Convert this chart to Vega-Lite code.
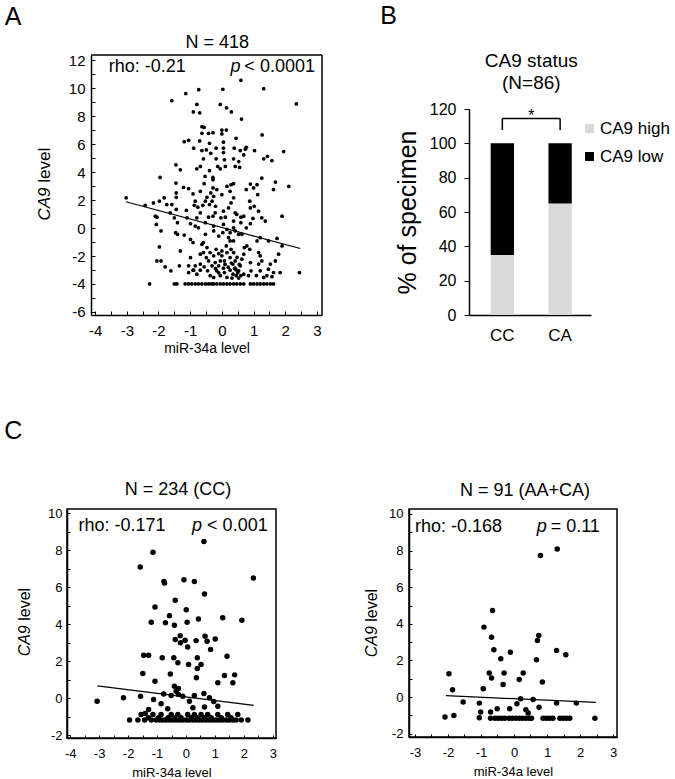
{
  "$schema": "https://vega.github.io/schema/vega-lite/v6.json",
  "padding": {"left": 3, "top": 3, "right": 0, "bottom": 0},
  "background": "white",
  "datasets": {
    "a_points": [
      {"x":0.60,"y":10.57},{"x":-0.73,"y":9.90},{"x":0.03,"y":9.93},{"x":1.32,"y":9.97},{"x":-1.14,"y":9.62},{"x":-1.58,"y":9.12},{"x":2.35,"y":8.88},{"x":-0.79,"y":8.84},{"x":-0.05,"y":8.84},{"x":0.15,"y":8.60},{"x":0.30,"y":8.31},{"x":-0.90,"y":8.31},{"x":-0.70,"y":8.24},{"x":0.62,"y":7.80},{"x":-0.63,"y":7.25},{"x":-0.56,"y":7.20},{"x":0.0,"y":7.01},{"x":0.14,"y":7.01},{"x":-0.63,"y":6.78},{"x":-0.42,"y":6.78},{"x":-0.28,"y":6.82},{"x":0.0,"y":6.73},{"x":1.27,"y":6.66},{"x":-1.19,"y":6.18},{"x":-1.05,"y":6.28},{"x":-0.70,"y":6.23},{"x":-0.39,"y":6.06},{"x":0.05,"y":6.14},{"x":0.45,"y":6.42},{"x":-0.89,"y":5.71},{"x":-0.63,"y":5.54},{"x":-0.49,"y":5.59},{"x":-0.18,"y":5.71},{"x":0.05,"y":5.71},{"x":0.39,"y":5.71},{"x":0.77,"y":5.78},{"x":0.74,"y":5.64},{"x":0.58,"y":5.54},{"x":1.03,"y":5.54},{"x":1.95,"y":5.47},{"x":-0.35,"y":5.35},{"x":0.05,"y":5.40},{"x":-0.58,"y":4.95},{"x":-0.18,"y":4.95},{"x":0.08,"y":4.88},{"x":0.37,"y":4.95},{"x":0.53,"y":4.76},{"x":0.69,"y":5.23},{"x":1.32,"y":4.95},{"x":1.44,"y":5.12},{"x":1.58,"y":4.83},{"x":-1.45,"y":4.52},{"x":-1.31,"y":4.17},{"x":-0.79,"y":4.24},{"x":-0.68,"y":4.41},{"x":-0.39,"y":4.10},{"x":-0.13,"y":4.41},{"x":-0.05,"y":4.24},{"x":0.11,"y":4.41},{"x":0.42,"y":4.41},{"x":0.56,"y":4.34},{"x":-1.95,"y":3.62},{"x":-0.53,"y":3.69},{"x":-0.28,"y":3.62},{"x":-0.28,"y":3.46},{"x":-1.45,"y":3.22},{"x":-0.56,"y":3.17},{"x":0.37,"y":3.17},{"x":1.26,"y":3.58},{"x":1.69,"y":3.29},{"x":0.90,"y":3.15},{"x":1.11,"y":3.10},{"x":2.11,"y":2.98},{"x":0.29,"y":3.10},{"x":0.16,"y":2.98},
      {"x":-0.28,"y":2.87},{"x":-1.21,"y":2.91},{"x":-1.05,"y":2.82},{"x":-0.91,"y":2.44},{"x":-0.68,"y":2.63},{"x":-0.35,"y":2.51},{"x":-0.16,"y":2.75},{"x":0.0,"y":2.39},{"x":0.26,"y":2.63},{"x":0.77,"y":2.75},{"x":1.0,"y":2.87},{"x":1.13,"y":2.39},{"x":1.63,"y":2.75},{"x":-1.44,"y":2.51},{"x":-1.44,"y":2.2},
      {"x":-3.02,"y":2.16},{"x":-2.42,"y":1.63},{"x":-2.16,"y":1.8},{"x":-1.97,"y":1.92},{"x":-1.82,"y":2.16},{"x":-1.74,"y":1.68},{"x":-1.58,"y":1.68},{"x":-2.1,"y":0.85},{"x":-2.05,"y":0.78},{"x":-2.07,"y":0.26},{"x":-1.92,"y":-0.21},{"x":-1.97,"y":-1.35},{"x":-2.05,"y":-2.35},{"x":-1.92,"y":-2.35},{"x":-1.79,"y":-2.77},{"x":-1.61,"y":-3.06},{"x":-2.28,"y":-4.0},{"x":-1.31,"y":-1.64},{"x":-1.34,"y":-2.7},{"x":-1.63,"y":1.09},{"x":-1.44,"y":1.33},{"x":-1.5,"y":0.73},{"x":-1.4,"y":0.38},{"x":-1.46,"y":-0.33},{"x":-1.4,"y":-0.45},{"x":-1.19,"y":-0.5},{"x":-1.12,"y":1.26},{"x":-1.1,"y":0.73},{"x":-0.99,"y":0.31},{"x":-0.99,"y":-0.81},{"x":-0.91,"y":-1.04},{"x":-1.05,"y":-2.7},{"x":-1.05,"y":-3.18},{"x":-0.89,"y":-3.01},{"x":-0.84,"y":1.92},{"x":-0.87,"y":1.63},{"x":-0.76,"y":1.49},{"x":-0.68,"y":1.09},{"x":-0.6,"y":1.63},{"x":-0.52,"y":1.92},{"x":-0.47,"y":2.2},{"x":-0.39,"y":1.68},{"x":-0.31,"y":1.92},{"x":-0.26,"y":2.27},{"x":-0.2,"y":1.56},{"x":-0.21,"y":1.09},{"x":-0.28,"y":0.85},{"x":-0.42,"y":0.78},{"x":-0.79,"y":0.73},{"x":-0.84,"y":0.14},{"x":-0.74,"y":0.02},{"x":-0.63,"y":-1.16},{"x":-0.58,"y":-1.04},{"x":-0.68,"y":-1.87},{"x":-0.58,"y":-1.75},{"x":-0.49,"y":-2.11},{"x":-0.42,"y":-2.35},{"x":-0.68,"y":-2.58},{"x":-0.56,"y":-2.77},{"x":-0.45,"y":-3.06},{"x":-0.37,"y":-3.41},{"x":-0.31,"y":-2.7},{"x":-0.26,"y":-1.99},{"x":-0.18,"y":-1.52},{"x":-0.1,"y":-1.83},{"x":0.0,"y":-1.64},{"x":0.0,"y":-1.99},{"x":-0.05,"y":-2.35},{"x":-0.1,"y":-2.7},{"x":-0.16,"y":-3.06},{"x":-0.05,"y":-3.41},{"x":0.05,"y":-2.87},{"x":0.08,"y":-3.18},{"x":0.14,"y":-1.28},{"x":0.21,"y":-0.69},{"x":0.26,"y":-0.33},{"x":0.16,"y":-0.1},{"x":0.05,"y":0.26},{"x":-0.03,"y":0.73},{"x":0.05,"y":1.21},{"x":0.21,"y":1.44},{"x":0.29,"y":1.8},{"x":0.37,"y":2.16},{"x":0.42,"y":1.09},{"x":0.47,"y":0.97},{"x":0.6,"y":0.78},{"x":0.69,"y":0.85},{"x":0.6,"y":0.38},{"x":0.37,"y":0.02},{"x":0.42,"y":-0.21},{"x":0.53,"y":-0.45},{"x":0.37,"y":-0.92},{"x":0.26,"y":-0.92},{"x":0.29,"y":-1.52},{"x":0.37,"y":-1.75},{"x":0.26,"y":-2.11},{"x":0.42,"y":-2.35},{"x":0.35,"y":-2.58},{"x":0.42,"y":-2.87},{"x":0.26,"y":-3.01},{"x":0.53,"y":-3.06},{"x":0.45,"y":-3.41},{"x":0.58,"y":-2.7},{"x":0.63,"y":-2.23},{"x":0.69,"y":-1.87},{"x":0.71,"y":-1.4},{"x":0.79,"y":-1.28},{"x":0.88,"y":-1.52},{"x":0.77,"y":0.02},{"x":0.9,"y":0.31},{"x":0.98,"y":0.69},{"x":0.9,"y":1.44},{"x":1.02,"y":1.56},{"x":0.88,"y":1.92},{"x":1.16,"y":1.21},{"x":1.26,"y":0.73},{"x":1.37,"y":0.5},{"x":1.21,"y":-0.69},{"x":1.11,"y":-0.92},{"x":1.16,"y":-1.75},{"x":1.21,"y":-1.99},{"x":1.26,"y":-2.35},{"x":1.16,"y":-2.58},{"x":1.21,"y":-3.06},{"x":1.09,"y":-3.41},{"x":0.9,"y":-2.47},{"x":0.92,"y":-3.06},{"x":0.84,"y":-3.41},{"x":0.69,"y":-3.3},{"x":1.47,"y":-0.92},{"x":1.74,"y":-0.74},{"x":1.9,"y":-1.28},{"x":1.79,"y":-1.87},{"x":1.69,"y":-2.35},{"x":1.53,"y":-2.58},{"x":1.47,"y":-2.94},{"x":1.63,"y":-3.18},{"x":1.84,"y":-3.18},{"x":1.42,"y":-3.41},{"x":1.32,"y":-3.53},{"x":1.58,"y":-3.48},{"x":1.9,"y":0.85},{"x":2.45,"y":-3.18},{"x":-0.68,"y":-3.01},{"x":-0.79,"y":-3.3},{"x":-0.91,"y":-3.01},{"x":-0.26,"y":-3.53},{"x":0.16,"y":-3.53},{"x":0.32,"y":-3.58},{"x":0.53,"y":-3.58},{"x":-0.52,"y":-0.45},{"x":-0.26,"y":-0.21},{"x":-0.1,"y":-0.57},{"x":0.03,"y":-0.33},{"x":-0.52,"y":0.38},{"x":-0.26,"y":0.14},{"x":0.11,"y":0.78},{"x":0.37,"y":0.5},{"x":0.63,"y":-0.45},{"x":0.16,"y":-1.75},{"x":-0.47,"y":-1.4},{"x":-0.37,"y":-1.75},{"x":0.08,"y":-2.35},{"x":-0.21,"y":-2.47},{"x":-0.84,"y":-2.7},{"x":-0.99,"y":-2.11},
      {"x":0.4,"y":-2.9},{"x":0.5,"y":-3.2},{"x":0.55,"y":-2.6},{"x":0.35,"y":-3.3},{"x":0.48,"y":-2.1},{"x":0.3,"y":-2.5},{"x":0.6,"y":-3.4},{"x":0.45,"y":-3.0},{"x":0.2,"y":-2.8},{"x":-0.1,"y":-3.2},{"x":-0.2,"y":-2.9},{"x":0.1,"y":-2.6},
      {"x":-1.5,"y":-4},{"x":-1.42,"y":-4},{"x":-1.16,"y":-4},{"x":-1.05,"y":-4},{"x":-0.95,"y":-4},{"x":-0.84,"y":-4},{"x":-0.74,"y":-4},{"x":-0.63,"y":-4},{"x":-0.52,"y":-4},{"x":-0.42,"y":-4},{"x":-0.33,"y":-4},{"x":-0.26,"y":-4},{"x":-0.16,"y":-4},{"x":-0.05,"y":-4},{"x":0.05,"y":-4},{"x":0.16,"y":-4},{"x":0.26,"y":-4},{"x":0.37,"y":-4},{"x":0.47,"y":-4},{"x":0.58,"y":-4},{"x":0.69,"y":-4},{"x":0.9,"y":-4},{"x":1.0,"y":-4},{"x":1.11,"y":-4},{"x":1.21,"y":-4},{"x":1.32,"y":-4},{"x":1.42,"y":-4},{"x":1.53,"y":-4},{"x":1.63,"y":-4}
    ],
    "a_fit": [{"x": -3.03, "y": 1.88}, {"x": 2.475, "y": -1.46}],
    "a_frame": [{"x": -4.13, "y": 12.38, "x2": 3.16, "y2": 12.38}, {"x": 3.16, "y": -6.22, "x2": 3.16, "y2": 12.38}],
    "a_notes": [{"x": -3.571, "y": 11.49, "label": "rho: -0.21"}, {"x": 0.71, "y": 11.49, "label": "< 0.0001"}],
    "a_p": [{"x": 0.27, "y": 11.49, "label": "p"}],
    "a_head": [{"x": -0.145, "y": 13.26, "label": "N = 418"}],
    "a_tag": [{"x": -6.85, "y": 15.12, "label": "A"}],
    "a_ytitle_it": [{"x": -5.58, "y": 0.54, "label": "CA9"}],
    "a_ytitle": [{"x": -5.58, "y": 3.24, "label": "level"}],
    "b_bars": [
      {"genotype": "CC", "status": "CA9 high", "pct": 35},
      {"genotype": "CC", "status": "CA9 low", "pct": 65},
      {"genotype": "CA", "status": "CA9 high", "pct": 65},
      {"genotype": "CA", "status": "CA9 low", "pct": 35}
    ],
    "b_bracket": [{"genotype": "CC", "genotype_to": "CA", "pct": 114.5}],
    "b_ends": [{"genotype": "CC", "pct": 107.8, "pct2": 114.5}, {"genotype": "CA", "pct": 107.8, "pct2": 114.5}],
    "b_star": [{"genotype": "CC", "pct": 113, "label": "*"}],
    "b_head": [{"genotype": "CC", "pct": 148, "label": "CA9 status"}, {"genotype": "CC", "pct": 135.1, "label": "(N=86)"}],
    "b_tag": [{"genotype": "CC", "pct": 174.2, "label": "B"}],
    "c1_points": [
      {"x":0.62,"y":8.47},{"x":-1.14,"y":7.88},{"x":-1.58,"y":7.09},{"x":2.33,"y":6.49},{"x":-0.74,"y":6.22},{"x":-0.76,"y":6.31},{"x":-0.07,"y":6.4},{"x":0.29,"y":6.3},{"x":0.64,"y":5.63},{"x":-0.37,"y":5.29},{"x":-1.07,"y":4.93},{"x":0.01,"y":4.78},{"x":-0.57,"y":4.46},{"x":-1.2,"y":4.1},{"x":-0.71,"y":4.07},{"x":-0.4,"y":3.94},{"x":0.04,"y":4.1},{"x":0.43,"y":4.28},{"x":1.27,"y":4.34},{"x":1.93,"y":4.21},{"x":-0.2,"y":3.38},{"x":-0.37,"y":3.17},{"x":-0.19,"y":2.99},{"x":-0.03,"y":3.13},{"x":0.06,"y":2.77},{"x":0.35,"y":3.11},{"x":0.66,"y":3.35},{"x":0.73,"y":3.08},{"x":1.01,"y":3.2},{"x":0.85,"y":2.63},{"x":-1.46,"y":2.32},{"x":-1.29,"y":2.32},{"x":-0.82,"y":2.18},{"x":-0.42,"y":2.18},{"x":-0.28,"y":1.91},{"x":0.09,"y":1.82},{"x":0.39,"y":2.18},{"x":0.52,"y":1.82},{"x":0.39,"y":1.6},{"x":0.36,"y":1.1},{"x":1.42,"y":2.27},{"x":-1.49,"y":1.33},{"x":-1.07,"y":0.92},{"x":-0.54,"y":1.31},{"x":1.33,"y":1.22},{"x":1.68,"y":1.26},{"x":1.62,"y":0.83},{"x":1.1,"y":0.83},{"x":-0.4,"y":0.65},{"x":-0.26,"y":0.52},{"x":-0.34,"y":0.38},{"x":-0.26,"y":0.2},{"x":-3.07,"y":-0.16},{"x":-2.16,"y":0.02},{"x":-1.57,"y":0.11},{"x":-1.12,"y":-0.07},{"x":-0.77,"y":0.23},{"x":-0.51,"y":0.14},{"x":-0.86,"y":-0.3},{"x":-0.11,"y":0.11},{"x":0.12,"y":-0.16},{"x":0.29,"y":0.14},{"x":0.62,"y":0.25},{"x":0.81,"y":0.02},{"x":0.96,"y":-0.18},{"x":1.1,"y":-0.43},{"x":0.64,"y":-0.47},{"x":0.24,"y":-0.52},{"x":-0.63,"y":-0.57},{"x":-1.29,"y":-0.61},{"x":-1.41,"y":-0.83},
      {"x":-1.95,"y":-1.18},{"x":-1.66,"y":-1.18},{"x":-1.43,"y":-1.18},{"x":-1.2,"y":-1.18},{"x":-1.03,"y":-1.18},{"x":-0.91,"y":-1.18},{"x":-0.8,"y":-1.18},{"x":-0.69,"y":-1.18},{"x":-0.57,"y":-1.18},{"x":-0.45,"y":-1.18},{"x":-0.34,"y":-1.18},{"x":-0.22,"y":-1.18},{"x":-0.11,"y":-1.18},{"x":0.01,"y":-1.18},{"x":0.12,"y":-1.18},{"x":0.24,"y":-1.18},{"x":0.35,"y":-1.18},{"x":0.47,"y":-1.18},{"x":0.58,"y":-1.18},{"x":0.7,"y":-1.18},{"x":0.81,"y":-1.18},{"x":0.93,"y":-1.18},{"x":1.04,"y":-1.18},{"x":1.16,"y":-1.18},{"x":1.27,"y":-1.18},{"x":1.39,"y":-1.18},{"x":1.5,"y":-1.18},{"x":1.62,"y":-1.18},{"x":1.73,"y":-1.18},{"x":1.91,"y":-1.18},{"x":2.14,"y":-1.18},
      {"x":-1.55,"y":-0.88},{"x":-1.14,"y":-0.88},{"x":-0.86,"y":-0.88},{"x":-0.51,"y":-0.88},{"x":-0.28,"y":-0.88},{"x":0.06,"y":-0.88},{"x":0.29,"y":-0.88},{"x":0.52,"y":-0.88},{"x":0.75,"y":-0.88},{"x":1.1,"y":-0.88},{"x":1.44,"y":-0.88},{"x":1.79,"y":-0.88},
      {"x":-1.3,"y":-1.05},{"x":-0.95,"y":-1.05},{"x":-0.62,"y":-1.05},{"x":-0.4,"y":-1.05},{"x":-0.17,"y":-1.05},{"x":0.18,"y":-1.05},{"x":0.4,"y":-1.05},{"x":0.64,"y":-1.05},{"x":0.87,"y":-1.05},{"x":1.22,"y":-1.05},{"x":1.55,"y":-1.05}
    ],
    "c1_fit": [{"x": -3.06, "y": 0.67}, {"x": 2.34, "y": -0.385}],
    "c1_notes": [{"x": -3.71, "y": 9.29, "label": "rho: -0.171"}, {"x": 0.73, "y": 9.29, "label": "< 0.001"}],
    "c1_p": [{"x": 0.21, "y": 9.29, "label": "p"}],
    "c1_head": [{"x": -0.276, "y": 11.24, "label": "N = 234 (CC)"}],
    "c1_tag": [{"x": -6.28, "y": 14.41, "label": "C"}],
    "c1_ytitle_it": [{"x": -5.57, "y": 2.26, "label": "CA9"}],
    "c1_ytitle": [{"x": -5.57, "y": 4.18, "label": "level"}],
    "c2_points": [
      {"x":1.31,"y":8.09},{"x":0.8,"y":7.73},{"x":-0.65,"y":4.73},{"x":-0.91,"y":3.82},{"x":0.75,"y":3.36},{"x":-0.68,"y":3.27},{"x":0.71,"y":3.09},{"x":-0.61,"y":2.58},{"x":1.29,"y":2.55},{"x":1.57,"y":2.31},{"x":-0.11,"y":2.45},{"x":-0.4,"y":2.09},{"x":0.68,"y":2.04},{"x":-1.97,"y":1.27},{"x":-0.75,"y":1.31},{"x":-0.68,"y":1.04},{"x":-0.3,"y":1.31},{"x":0.28,"y":1.31},{"x":0.16,"y":0.96},{"x":-0.33,"y":0.69},{"x":0.86,"y":0.82},{"x":-1.86,"y":0.4},{"x":-0.93,"y":0.45},{"x":-1.54,"y":-0.27},{"x":-1.05,"y":-0.33},{"x":0.2,"y":-0.09},{"x":0.58,"y":-0.13},{"x":0.09,"y":-0.36},{"x":1.29,"y":-0.33},{"x":1.89,"y":-0.33},{"x":-1.01,"y":-0.82},{"x":-0.71,"y":-0.82},{"x":-0.51,"y":-0.64},{"x":-0.13,"y":-0.64},{"x":0.36,"y":-0.69},{"x":0.43,"y":-0.87},{"x":0.76,"y":-0.55},{"x":-2.09,"y":-1.09},{"x":-1.82,"y":-1.0},{"x":-1.05,"y":-1.13},
      {"x":-0.71,"y":-1.15},{"x":-0.58,"y":-1.15},{"x":-0.48,"y":-1.15},{"x":-0.38,"y":-1.15},{"x":-0.28,"y":-1.15},{"x":-0.15,"y":-1.15},{"x":-0.05,"y":-1.15},{"x":0.06,"y":-1.15},{"x":0.16,"y":-1.15},{"x":0.26,"y":-1.15},{"x":0.36,"y":-1.15},{"x":0.46,"y":-1.15},{"x":0.53,"y":-1.15},{"x":0.88,"y":-1.15},{"x":0.98,"y":-1.15},{"x":1.08,"y":-1.15},{"x":1.18,"y":-1.15},{"x":1.39,"y":-1.15},{"x":1.49,"y":-1.15},{"x":1.59,"y":-1.15},{"x":1.69,"y":-1.15},{"x":2.45,"y":-1.15}
    ],
    "c2_fit": [{"x": -2.06, "y": 0.075}, {"x": 2.48, "y": -0.29}],
    "c2_notes": [{"x": -3.0, "y": 9.27, "label": "rho: -0.168"}, {"x": 1.11, "y": 9.27, "label": "= 0.11"}],
    "c2_p": [{"x": 0.687, "y": 9.27, "label": "p"}],
    "c2_head": [{"x": 0.335, "y": 11.25, "label": "N = 91 (AA+CA)"}],
    "c2_ytitle_it": [{"x": -4.29, "y": 2.17, "label": "CA9"}],
    "c2_ytitle": [{"x": -4.29, "y": 4.11, "label": "level"}]
  },
  "resolve": {"scale": {"color": "independent"}, "legend": {"color": "independent"}},
  "vconcat": [
    {
      "spacing": 57,
      "resolve": {"scale": {"color": "independent"}, "legend": {"color": "independent"}},
      "hconcat": [
        {
          "width": 255,
          "height": 260,
          "encoding": {
            "x": {"field": "x", "type": "quantitative",
              "scale": {"domain": [-4.13, 3.16], "range": [24, 255], "nice": false, "zero": false},
              "axis": {"values": [-4,-3.5,-3,-2.5,-2,-1.5,-1,-0.5,0,0.5,1,1.5,2,2.5,3], "labelExpr": "datum.value % 1 == 0 ? '' + datum.value : ''", "tickSize": -4, "labelPadding": 12, "labelFontSize": 15, "title": "miR-34a level", "titleFontSize": 14, "titlePadding": 3, "domainWidth": 1.5}},
            "y": {"field": "y", "type": "quantitative",
              "scale": {"domain": [-6.22, 12.38], "nice": false, "zero": false},
              "axis": {"offset": -24, "values": [-6,-5,-4,-3,-2,-1,0,1,2,3,4,5,6,7,8,9,10,11,12], "labelExpr": "datum.value % 2 == 0 ? '' + datum.value : ''", "tickSize": -4, "labelPadding": 10, "labelFontSize": 15, "title": null, "domainWidth": 1.5}}
          },
          "layer": [
            {"data": {"name": "a_points"}, "mark": {"type": "circle", "size": 14, "color": "#000", "opacity": 1}},
            {"data": {"name": "a_fit"}, "mark": {"type": "line", "color": "#000", "strokeWidth": 1.2}},
            {"data": {"name": "a_frame"}, "mark": {"type": "rule", "color": "#000", "strokeWidth": 1.5},
             "encoding": {"x2": {"field": "x2"}, "y2": {"field": "y2"}}},
            {"data": {"name": "a_notes"}, "mark": {"type": "text", "align": "left", "baseline": "middle", "fontSize": 18, "color": "#000"},
             "encoding": {"text": {"field": "label"}}},
            {"data": {"name": "a_p"}, "mark": {"type": "text", "align": "left", "baseline": "middle", "fontSize": 18, "fontStyle": "italic", "color": "#000"},
             "encoding": {"text": {"field": "label"}}},
            {"data": {"name": "a_head"}, "mark": {"type": "text", "align": "center", "baseline": "middle", "fontSize": 18, "color": "#000"},
             "encoding": {"text": {"field": "label"}}},
            {"data": {"name": "a_tag"}, "mark": {"type": "text", "align": "left", "baseline": "middle", "fontSize": 25, "color": "#000"},
             "encoding": {"text": {"field": "label"}}},
            {"data": {"name": "a_ytitle_it"}, "mark": {"type": "text", "align": "left", "baseline": "middle", "angle": 270, "fontSize": 17, "fontStyle": "italic", "color": "#000"},
             "encoding": {"text": {"field": "label"}}},
            {"data": {"name": "a_ytitle"}, "mark": {"type": "text", "align": "left", "baseline": "middle", "angle": 270, "fontSize": 17, "color": "#000"},
             "encoding": {"text": {"field": "label"}}}
          ]
        },
        {
          "width": 122,
          "height": 260,
          "encoding": {
            "x": {"field": "genotype", "type": "nominal", "sort": ["CC", "CA"],
              "scale": {"paddingInner": 0.597, "paddingOuter": 0.354, "align": 0.53},
              "axis": {"title": null, "labelAngle": 0, "ticks": false, "tickSize": 0, "labelPadding": 12, "labelFontSize": 17, "domainWidth": 1.5}},
            "y": {"field": "pct", "type": "quantitative",
              "scale": {"domain": [0, 120], "range": [260, 54], "nice": false},
              "axis": {"values": [0, 20, 40, 60, 80, 100, 120], "tickSize": 5, "labelPadding": 8, "labelFontSize": 16, "title": "% of specimen", "titleFontSize": 25, "titlePadding": 9, "domainWidth": 1.5}}
          },
          "layer": [
            {"data": {"name": "b_bars"}, "mark": {"type": "bar"},
             "encoding": {
               "color": {"field": "status", "type": "nominal",
                 "scale": {"domain": ["CA9 high", "CA9 low"], "range": ["#d9d9d9", "#000000"]},
                 "legend": {"orient": "none", "legendX": 112, "legendY": 65, "title": null, "symbolType": "square", "symbolSize": 80, "symbolStrokeWidth": 0, "labelFontSize": 17, "labelOffset": 2, "rowPadding": 10, "padding": 0, "labelColor": "#000"}},
               "order": {"field": "status", "sort": "ascending"}
             }},
            {"data": {"name": "b_bracket"}, "mark": {"type": "rule", "color": "#000", "strokeWidth": 1.5},
             "encoding": {"x2": {"field": "genotype_to"}}},
            {"data": {"name": "b_ends"}, "mark": {"type": "rule", "color": "#000", "strokeWidth": 1.5},
             "encoding": {"y2": {"field": "pct2"}}},
            {"data": {"name": "b_star"}, "mark": {"type": "text", "fontSize": 16, "dx": 29, "baseline": "alphabetic", "color": "#000"},
             "encoding": {"text": {"field": "label"}}},
            {"data": {"name": "b_head"}, "mark": {"type": "text", "fontSize": 19, "dx": 29, "align": "center", "baseline": "middle", "color": "#000"},
             "encoding": {"text": {"field": "label"}}},
            {"data": {"name": "b_tag"}, "mark": {"type": "text", "fontSize": 25, "dx": -122, "align": "left", "baseline": "middle", "color": "#000"},
             "encoding": {"text": {"field": "label"}}}
          ]
        }
      ]
    },
    {
      "spacing": 85,
      "hconcat": [
        {
          "width": 209,
          "height": 229,
          "view": {"stroke": "#000", "strokeWidth": 1.5},
          "encoding": {
            "x": {"field": "x", "type": "quantitative",
              "scale": {"domain": [-4.11, 3.11], "nice": false, "zero": false},
              "axis": {"values": [-4,-3.5,-3,-2.5,-2,-1.5,-1,-0.5,0,0.5,1,1.5,2,2.5,3], "labelExpr": "datum.value % 1 == 0 ? '' + datum.value : ''", "tickSize": -3, "labelPadding": 12, "labelFontSize": 13, "title": "miR-34a level", "titleFontSize": 13, "titlePadding": 6, "domainWidth": 1.5}},
            "y": {"field": "y", "type": "quantitative",
              "scale": {"domain": [-2.15, 10.22], "nice": false, "zero": false},
              "axis": {"values": [-2,-1,0,1,2,3,4,5,6,7,8,9,10], "labelExpr": "datum.value % 2 == 0 ? '' + datum.value : ''", "tickSize": -3, "labelPadding": 8, "labelFontSize": 13, "title": null, "domainWidth": 1.5}}
          },
          "layer": [
            {"data": {"name": "c1_points"}, "mark": {"type": "circle", "size": 30, "color": "#000", "opacity": 1}},
            {"data": {"name": "c1_fit"}, "mark": {"type": "line", "color": "#000", "strokeWidth": 1.2}},
            {"data": {"name": "c1_notes"}, "mark": {"type": "text", "align": "left", "baseline": "middle", "fontSize": 18, "color": "#000"},
             "encoding": {"text": {"field": "label"}}},
            {"data": {"name": "c1_p"}, "mark": {"type": "text", "align": "left", "baseline": "middle", "fontSize": 18, "fontStyle": "italic", "color": "#000"},
             "encoding": {"text": {"field": "label"}}},
            {"data": {"name": "c1_head"}, "mark": {"type": "text", "align": "center", "baseline": "middle", "fontSize": 18, "color": "#000"},
             "encoding": {"text": {"field": "label"}}},
            {"data": {"name": "c1_tag"}, "mark": {"type": "text", "align": "left", "baseline": "middle", "fontSize": 25, "color": "#000"},
             "encoding": {"text": {"field": "label"}}},
            {"data": {"name": "c1_ytitle_it"}, "mark": {"type": "text", "align": "left", "baseline": "middle", "angle": 270, "fontSize": 16, "fontStyle": "italic", "color": "#000"},
             "encoding": {"text": {"field": "label"}}},
            {"data": {"name": "c1_ytitle"}, "mark": {"type": "text", "align": "left", "baseline": "middle", "angle": 270, "fontSize": 16, "color": "#000"},
             "encoding": {"text": {"field": "label"}}}
          ]
        },
        {
          "width": 208,
          "height": 228,
          "view": {"stroke": "#000", "strokeWidth": 1.5},
          "encoding": {
            "x": {"field": "x", "type": "quantitative",
              "scale": {"domain": [-3.18, 3.12], "nice": false, "zero": false},
              "axis": {"values": [-3,-2.5,-2,-1.5,-1,-0.5,0,0.5,1,1.5,2,2.5,3], "labelExpr": "datum.value % 1 == 0 ? '' + datum.value : ''", "tickSize": -3, "labelPadding": 12, "labelFontSize": 13, "title": "miR-34a level", "titleFontSize": 13, "titlePadding": 6, "domainWidth": 1.5}},
            "y": {"field": "y", "type": "quantitative",
              "scale": {"domain": [-2.18, 10.27], "nice": false, "zero": false},
              "axis": {"values": [-2,-1,0,1,2,3,4,5,6,7,8,9,10], "labelExpr": "datum.value % 2 == 0 ? '' + datum.value : ''", "tickSize": -3, "labelPadding": 9, "labelFontSize": 13, "title": null, "domainWidth": 1.5}}
          },
          "layer": [
            {"data": {"name": "c2_points"}, "mark": {"type": "circle", "size": 30, "color": "#000", "opacity": 1}},
            {"data": {"name": "c2_fit"}, "mark": {"type": "line", "color": "#000", "strokeWidth": 1.2}},
            {"data": {"name": "c2_notes"}, "mark": {"type": "text", "align": "left", "baseline": "middle", "fontSize": 18, "color": "#000"},
             "encoding": {"text": {"field": "label"}}},
            {"data": {"name": "c2_p"}, "mark": {"type": "text", "align": "left", "baseline": "middle", "fontSize": 18, "fontStyle": "italic", "color": "#000"},
             "encoding": {"text": {"field": "label"}}},
            {"data": {"name": "c2_head"}, "mark": {"type": "text", "align": "center", "baseline": "middle", "fontSize": 18, "color": "#000"},
             "encoding": {"text": {"field": "label"}}},
            {"data": {"name": "c2_ytitle_it"}, "mark": {"type": "text", "align": "left", "baseline": "middle", "angle": 270, "fontSize": 16, "fontStyle": "italic", "color": "#000"},
             "encoding": {"text": {"field": "label"}}},
            {"data": {"name": "c2_ytitle"}, "mark": {"type": "text", "align": "left", "baseline": "middle", "angle": 270, "fontSize": 16, "color": "#000"},
             "encoding": {"text": {"field": "label"}}}
          ]
        }
      ]
    }
  ],
  "spacing": 63,
  "config": {
    "font": "Liberation Sans",
    "view": {"stroke": null},
    "axis": {"grid": false, "domainColor": "#000", "tickColor": "#000", "labelColor": "#000", "titleColor": "#000", "titleFontWeight": "normal", "labelFlush": false, "labelOverlap": false, "labelFont": "Liberation Sans", "titleFont": "Liberation Sans"},
    "title": {"fontWeight": "normal", "color": "#000", "font": "Liberation Sans"},
    "legend": {"labelFont": "Liberation Sans"}
  }
}
